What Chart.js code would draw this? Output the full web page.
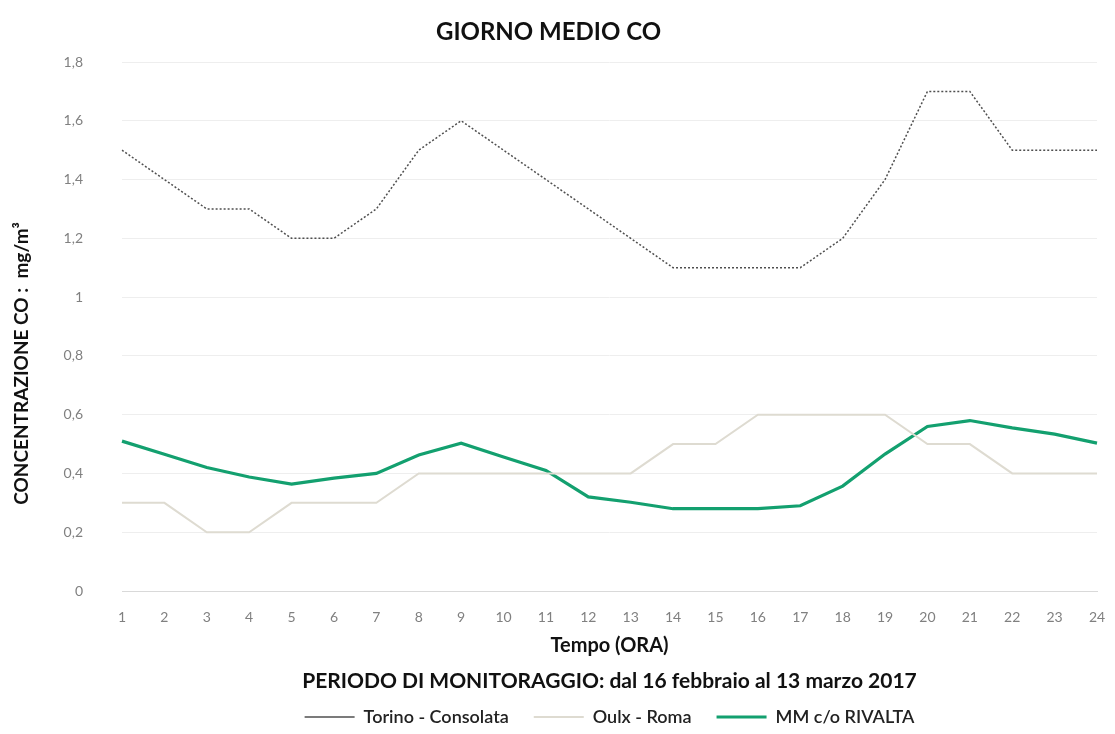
<!DOCTYPE html>
<html>
<head>
<meta charset="utf-8">
<script src="https://cdn.jsdelivr.net/npm/chart.js@4"></script>
<style>
html,body{margin:0;padding:0;background:#fff;}
#wrap{width:1115px;height:734px;position:relative;}
</style>
</head>
<body>
<div id="wrap"><canvas id="c" width="1115" height="734"></canvas></div>
<script>
const hours = ['1','2','3','4','5','6','7','8','9','10','11','12','13','14','15','16','17','18','19','20','21','22','23','24'];
const torino = [1.5,1.4,1.3,1.3,1.2,1.2,1.3,1.5,1.6,1.5,1.4,1.3,1.2,1.1,1.1,1.1,1.1,1.2,1.4,1.7,1.7,1.5,1.5,1.5];
const oulx = [0.3,0.3,0.2,0.2,0.3,0.3,0.3,0.4,0.4,0.4,0.4,0.4,0.4,0.5,0.5,0.6,0.6,0.6,0.6,0.5,0.5,0.4,0.4,0.4];
const rivalta = [0.51,0.465,0.42,0.388,0.364,0.384,0.40,0.463,0.503,0.456,0.41,0.32,0.302,0.28,0.28,0.28,0.29,0.357,0.466,0.56,0.58,0.555,0.534,0.503];
const yTicks = [0,0.2,0.4,0.6,0.8,1,1.2,1.4,1.6,1.8];

const FONT = 'Lato, "Open Sans", sans-serif';
const NB = '\u00A0';

new Chart(document.getElementById('c'), {
  type: 'line',
  data: {
    labels: hours,
    datasets: [
      {label:'Torino - Consolata', data:torino, borderColor:'#4f4f4f', borderWidth:1.5, borderDash:[2,2], pointRadius:0, tension:0, fill:false},
      {label:'Oulx - Roma', data:oulx, borderColor:'#dedbd1', borderWidth:2, pointRadius:0, tension:0, fill:false},
      {label:'MM c/o RIVALTA', data:rivalta, borderColor:'#13a06f', borderWidth:3.2, pointRadius:0, tension:0, fill:false}
    ]
  },
  options: {
    responsive:false,
    animation:false,
    layout:{padding:{left:0,right:18,top:0,bottom:-2}},
    plugins:{
      title:{display:true, text:'GIORNO MEDIO CO', color:'#111', font:{family:FONT,size:24,weight:'bold'}, padding:{top:17.6,bottom:15.6}},
      subtitle:{display:true, fullSize:false, position:'bottom', text:'PERIODO DI MONITORAGGIO: dal 16 febbraio al 13 marzo 2017', color:'#111', font:{family:FONT,size:21,weight:'bold'}, padding:{top:4,bottom:-10.6}},
      legend:{position:'bottom', fullSize:false, weight:3000, labels:{usePointStyle:true, pointStyle:'line', pointStyleWidth:50, color:'#222', font:{family:FONT,size:18,weight:'600'}, padding:25}},
      tooltip:{enabled:false}
    },
    scales:{
      x:{
        offset:false,
        afterFit:(s)=>{s.paddingRight = 0; s.paddingLeft = 0;},
        grid:{display:false, drawTicks:false},
        border:{display:true,color:'#d9d9d9'},
        ticks:{color:'#808080', font:{family:FONT,size:14}, padding:17.6, maxRotation:0},
        title:{display:true, text:'Tempo (ORA)', color:'#111', font:{family:FONT,size:20,weight:'bold'}, padding:{top:-9,bottom:6.4}}
      },
      y:{
        min:0, max:1.8,
        afterBuildTicks:(s)=>{s.ticks = yTicks.map(v=>({value:v}));},
        afterFit:(s)=>{s.width = 122;},
        grid:{color:'#eeeeee', drawTicks:false},
        border:{display:false},
        ticks:{color:'#808080', font:{family:FONT,size:14}, padding:39, callback:(v)=>String(v).replace('.',',')},
        title:{display:true, text:'CONCENTRAZIONE CO :  mg/m³' + NB.repeat(16), color:'#111', font:{family:FONT,size:19,weight:'bold'}, padding:{top:10.6,bottom:4}}
      }
    }
  }
});
</script>
</body>
</html>
